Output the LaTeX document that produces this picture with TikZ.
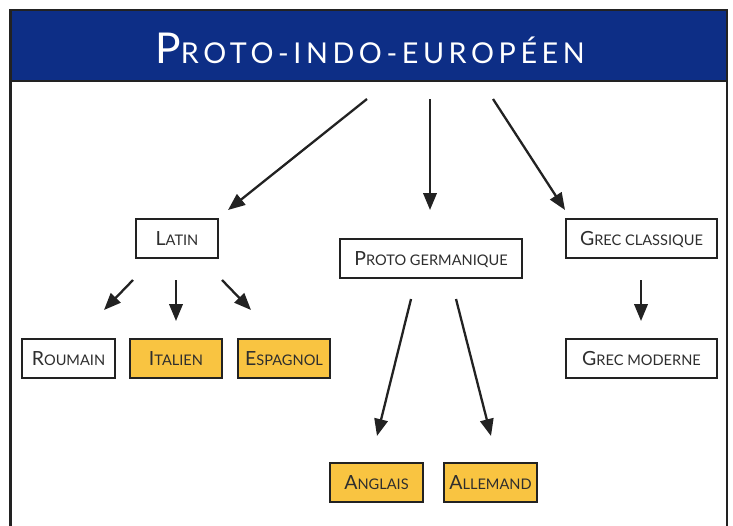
\documentclass[tikz,border=0pt]{standalone}
\usepackage{fontspec}
\setmainfont{Lato}
\usetikzlibrary{arrows.meta}
\definecolor{titleblue}{HTML}{0D2E86}
\definecolor{boxyellow}{HTML}{F9C441}
\definecolor{ink}{HTML}{222222}
\definecolor{labink}{HTML}{2E2E2E}
\newcommand{\mysc}[4]{{\fontsize{#1}{#1}\selectfont #3}{\fontsize{#2}{#2}\selectfont #4}}
\newcommand{\lab}[2]{\mysc{19.5pt}{14.6pt}{#1}{#2}}
\tikzset{
  langbox/.style={draw=ink, line width=1.8pt, minimum height=39pt, inner sep=0pt, text=labink, fill=white, text depth=0pt},
  hilite/.style={langbox, fill=boxyellow},
  arr/.style={draw=ink, line width=2.3pt, -{Triangle[length=17pt,width=13.5pt]}},
}
\begin{document}
\begin{tikzpicture}[x=1pt,y=-1pt]
\useasboundingbox (0,0) rectangle (733,525);
\clip (0,0) rectangle (733,525);
% frame and title bar
\fill[titleblue] (10.5,10) rectangle (727,81);
\draw[ink, line width=1.2pt] (10.5,81) -- (727,81);
\draw[ink, line width=2.5pt] (10.5,10) rectangle (727,540);
\node[text=white, anchor=base, inner sep=0pt] (title) at (370,63.3)
  {\addfontfeature{LetterSpace=16}\mysc{42.5pt}{28.7pt}{P}{ROTO-INDO-EUROP\'EEN}};
% boxes
\node[langbox, minimum width=82pt] (latin) at (177,238.5) {\lab{L}{ATIN}};
\node[langbox, minimum width=93pt] (roumain) at (68.5,358.5) {\lab{R}{OUMAIN}};
\node[hilite, minimum width=92pt] (italien) at (176,358.5) {\lab{I}{TALIEN}};
\node[hilite, minimum width=92pt] (espagnol) at (284,358.5) {\lab{E}{SPAGNOL}};
\node[langbox, minimum width=182pt] (protog) at (431,258.5) {\lab{P}{ROTO GERMANIQUE}};
\node[langbox, minimum width=151pt] (grecc) at (641.5,238.5) {\lab{G}{REC CLASSIQUE}};
\node[langbox, minimum width=151pt] (grecm) at (641.5,358.5) {\lab{G}{REC MODERNE}};
\node[hilite, minimum width=93pt] (anglais) at (376.5,482.5) {\lab{A}{NGLAIS}};
\node[hilite, minimum width=93pt] (allemand) at (490.5,482.5) {\lab{A}{LLEMAND}};
% arrow end points
\coordinate (t1) at (367,99);  \coordinate (e1) at (228,210);
\coordinate (t2) at (430,99);  \coordinate (e2) at (430,210);
\coordinate (t3) at (493,99);  \coordinate (e3) at (565,210);
\coordinate (l1) at (133,280); \coordinate (f1) at (104,310);
\coordinate (l2) at (176,280); \coordinate (f2) at (176,321);
\coordinate (l3) at (222,280); \coordinate (f3) at (251,310);
\coordinate (g1) at (641,280); \coordinate (h1) at (641,321);
\coordinate (p1) at (411,299); \coordinate (q1) at (377,436);
\coordinate (p2) at (456,299); \coordinate (q2) at (491,436);
\draw[arr] (t1) -- (e1);
\draw[arr] (t2) -- (e2);
\draw[arr] (t3) -- (e3);
\draw[arr] (l1) -- (f1);
\draw[arr] (l2) -- (f2);
\draw[arr] (l3) -- (f3);
\draw[arr] (g1) -- (h1);
\draw[arr] (p1) -- (q1);
\draw[arr] (p2) -- (q2);
\end{tikzpicture}
\end{document}
